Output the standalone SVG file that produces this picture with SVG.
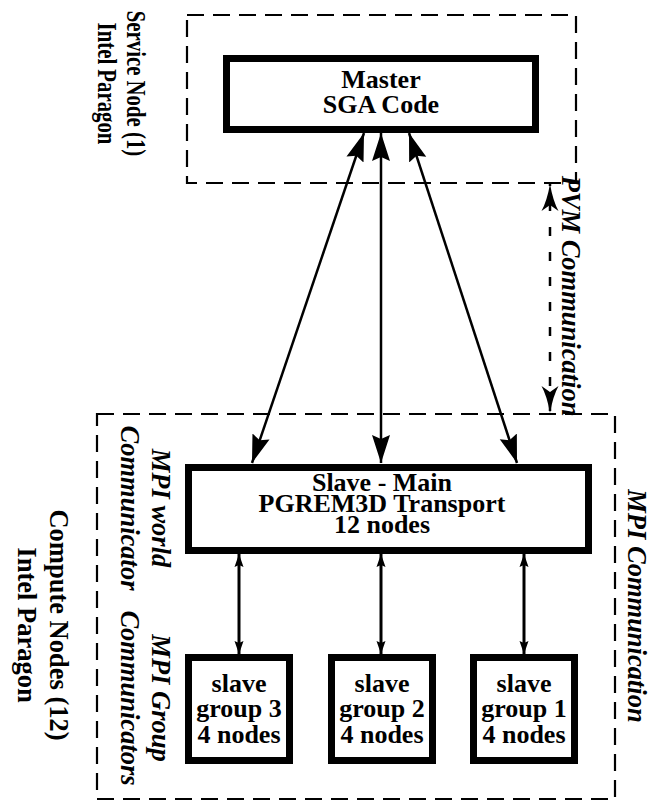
<svg xmlns="http://www.w3.org/2000/svg" width="656" height="803" viewBox="0 0 656 803">
<style>
.t{font-family:"Liberation Serif","Times New Roman",serif;font-weight:bold;font-size:26px;fill:#000;text-anchor:middle}
.r{font-family:"Liberation Serif","Times New Roman",serif;font-weight:bold;font-size:26.5px;fill:#000;text-anchor:middle}
.i{font-style:italic}
.box{fill:#fff;stroke:#000;stroke-width:7}
.dash{fill:none;stroke:#000;stroke-width:2.2;stroke-dasharray:17 9}
.arr{stroke:#000;stroke-width:2.5;fill:none}
.sarr{stroke:#000;stroke-width:3;fill:none}
</style>
<defs>
<marker id="big" markerUnits="userSpaceOnUse" viewBox="0 -10 30 20" refX="28" refY="0" markerWidth="30" markerHeight="20" orient="auto-start-reverse">
<path d="M28,0 L0,-9 L4,0 L0,9 Z" fill="#000"/>
</marker>
<marker id="dart" markerUnits="userSpaceOnUse" viewBox="0 -10 30 20" refX="27" refY="0" markerWidth="30" markerHeight="20" orient="auto-start-reverse">
<path d="M27,0 Q10,-3 0,-8.5 L6,0 L0,8.5 Q10,3 27,0 Z" fill="#000"/>
</marker>
<marker id="small" markerUnits="userSpaceOnUse" viewBox="0 -6 14 12" refX="13" refY="0" markerWidth="14" markerHeight="12" orient="auto-start-reverse">
<path d="M13,0 L0,-4.5 L2,0 L0,4.5 Z" fill="#000"/>
</marker>
</defs>

<g id="service-region">
<rect class="dash" x="187" y="15" width="389" height="168"/>
<g transform="translate(127,83.5) rotate(90) scale(0.785,1)">
<text class="r" x="0" y="0">Service Node (1)</text>
<text class="r" x="0" y="29">Intel Paragon</text>
</g>
</g>

<g id="compute-region">
<rect class="dash" x="97" y="414" width="518" height="385"/>
<g transform="translate(50,625) rotate(90)">
<text class="r" x="0" y="0">Compute Nodes (12)</text>
<text class="r" x="0" y="32">Intel Paragon</text>
</g>
</g>

<g id="master">
<rect class="box" x="226.5" y="58.5" width="309" height="71"/>
<text class="t" x="381" y="88">Master</text>
<text class="t" x="381" y="113">SGA Code</text>
</g>

<g id="slave-main">
<rect class="box" x="188.5" y="467.5" width="400" height="83"/>
<text class="t" x="382" y="491">Slave - Main</text>
<text class="t" x="382" y="512">PGREM3D Transport</text>
<text class="t" x="382" y="533">12 nodes</text>
</g>

<g id="group3">
<rect class="box" x="188.5" y="657.5" width="101" height="103"/>
<text class="t" x="239" y="692">slave</text>
<text class="t" x="239" y="717">group 3</text>
<text class="t" x="239" y="743">4 nodes</text>
</g>

<g id="group2">
<rect class="box" x="331.5" y="657.5" width="101" height="103"/>
<text class="t" x="382" y="692">slave</text>
<text class="t" x="382" y="717">group 2</text>
<text class="t" x="382" y="743">4 nodes</text>
</g>

<g id="group1">
<rect class="box" x="473.5" y="657.5" width="101" height="103"/>
<text class="t" x="524" y="692">slave</text>
<text class="t" x="524" y="717">group 1</text>
<text class="t" x="524" y="743">4 nodes</text>
</g>

<g id="labels">
<g transform="translate(152,508) rotate(90)">
<text class="r i" x="0" y="0">MPI world</text>
<text class="r i" x="0" y="31">Communicator</text>
</g>
<g transform="translate(152,698) rotate(90)">
<text class="r i" x="0" y="0">MPI Group</text>
<text class="r i" x="0" y="31">Communicators</text>
</g>
<g transform="translate(562,296) rotate(90)">
<text class="r i" x="0" y="0">PVM Communication</text>
</g>
<g transform="translate(628,606) rotate(90)">
<text class="r i" x="0" y="0">MPI Communication</text>
</g>
</g>

<g id="connectors">
<line class="arr" x1="364" y1="133" x2="252" y2="463" marker-start="url(#big)" marker-end="url(#big)"/>
<line class="arr" x1="381" y1="133" x2="381" y2="463" marker-start="url(#big)" marker-end="url(#big)"/>
<line class="arr" x1="409" y1="133" x2="517" y2="463" marker-start="url(#big)" marker-end="url(#big)"/>
<line class="arr" x1="550" y1="184" x2="550" y2="413" stroke-dasharray="9 16" stroke-dashoffset="-18" marker-start="url(#dart)" marker-end="url(#dart)"/>
<line class="sarr" x1="239" y1="554" x2="239" y2="654" marker-start="url(#small)" marker-end="url(#small)"/>
<line class="sarr" x1="381" y1="554" x2="381" y2="654" marker-start="url(#small)" marker-end="url(#small)"/>
<line class="sarr" x1="524" y1="554" x2="524" y2="654" marker-start="url(#small)" marker-end="url(#small)"/>
</g>
</svg>
